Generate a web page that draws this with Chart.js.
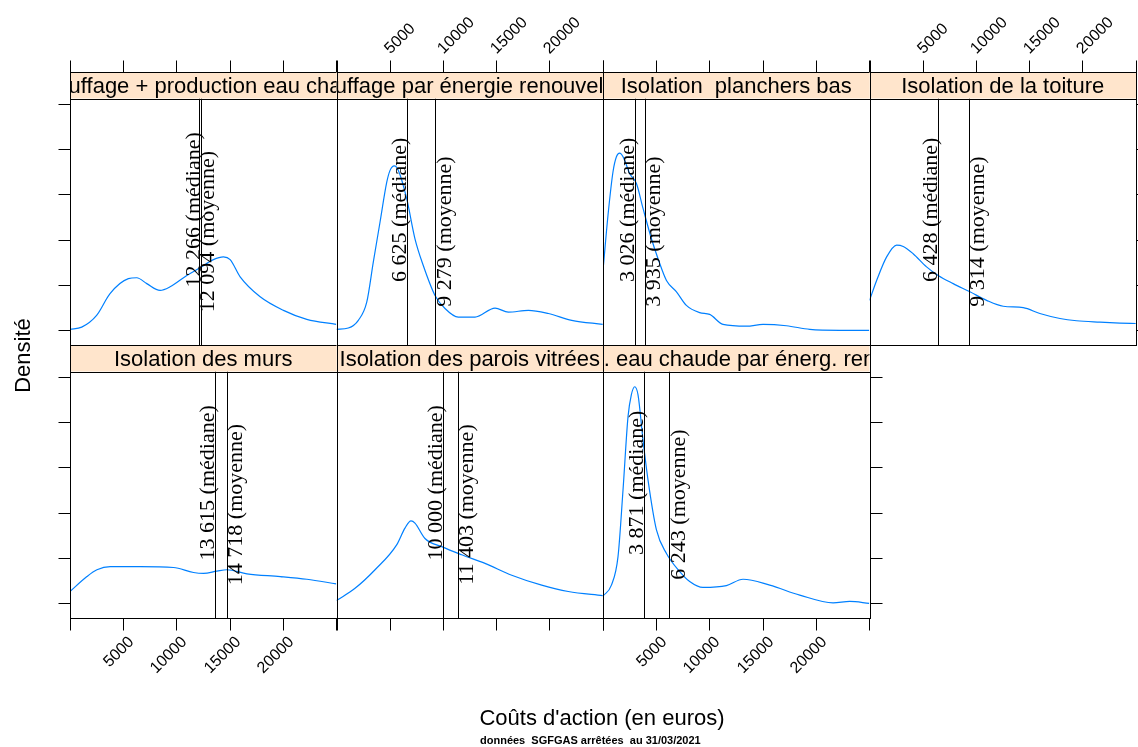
<!DOCTYPE html>
<html lang="fr">
<head>
<meta charset="UTF-8">
<title>Coûts d'action - densités</title>
<script src="https://cdn.jsdelivr.net/npm/chart.js"></script>
<style>
  html, body { margin: 0; padding: 0; background: #fff; }
  #page { position: relative; width: 1138px; height: 747px; overflow: hidden; }
  #page canvas { position: absolute; left: 0; top: 0; }
</style>
</head>
<body>
<div id="page"></div>

<script>
// ---- données (densité en unités de graduation) ----
const panneaux = ['Chauffage + production eau chaude', 'Chauffage par énergie renouvelable',
  'Isolation  planchers bas', 'Isolation de la toiture', 'Isolation des murs',
  'Isolation des parois vitrées', 'Prod. eau chaude par énerg. renouv.'];
const medianes = [12266, 6625, 3026, 6428, 13615, 10000, 3871];
const moyennes = [12094, 9279, 3935, 9314, 14718, 11403, 6243];

const xTicks = [0, 5000, 10000, 15000, 20000, 25000];
const xTickLabels = ['', '5000', '10000', '15000', '20000', ''];
const yTicks = [0, 1, 2, 3, 4, 5];

const coutChauffage = [0, 1100, 2500, 3760, 5480, 6270, 7210, 8460, 9400, 10970, 12220, 13470, 14410, 15040, 15980, 17860, 20050, 22240, 25000];
const densChauffage = [0.02, 0.07, 0.33, 0.81, 1.14, 1.16, 1.03, 0.88, 0.96, 1.21, 1.38, 1.56, 1.62, 1.56, 1.18, 0.74, 0.44, 0.24, 0.13];

const coutChaufRenouv = [0, 1110, 2050, 2840, 3460, 4090, 4720, 5030, 5430, 5810, 6590, 7370, 8150, 9250, 10190, 11440, 13010, 14890, 16140, 18020, 19900, 22090, 25000];
const densChaufRenouv = [0.02, 0.05, 0.22, 0.62, 1.51, 2.39, 3.27, 3.53, 3.63, 3.53, 2.91, 2.02, 1.43, 0.77, 0.48, 0.29, 0.29, 0.49, 0.40, 0.44, 0.37, 0.22, 0.13];

const coutPlanchers = [0, 470, 940, 1260, 1570, 1880, 2510, 3140, 3760, 4550, 5170, 5960, 6900, 7830, 9080, 10020, 11270, 13470, 15030, 17230, 19420, 22230, 25000];
const densPlanchers = [1.32, 2.54, 3.50, 3.83, 3.91, 3.83, 3.46, 3.24, 2.69, 2.02, 1.58, 1.10, 0.85, 0.55, 0.39, 0.35, 0.13, 0.09, 0.13, 0.10, 0.02, 0.0, 0.0];

const coutToiture = [0, 670, 1610, 2550, 3170, 4100, 5360, 6450, 7860, 9430, 11000, 12560, 14440, 16000, 17890, 19450, 21640, 23520, 25000];
const densToiture = [0.66, 1.10, 1.62, 1.88, 1.85, 1.69, 1.40, 1.21, 1.03, 0.85, 0.66, 0.53, 0.50, 0.37, 0.26, 0.21, 0.18, 0.16, 0.15];

const coutMurs = [0, 1590, 2530, 3780, 6590, 9720, 11600, 12540, 13800, 14740, 16620, 19750, 22250, 25000];
const densMurs = [0.26, 0.59, 0.74, 0.81, 0.81, 0.79, 0.68, 0.66, 0.71, 0.74, 0.65, 0.59, 0.53, 0.43];

const coutParois = [0, 1740, 3620, 5650, 6430, 7000, 7370, 8310, 9880, 11760, 13950, 16460, 19270, 21770, 25000];
const densParois = [0.06, 0.33, 0.74, 1.29, 1.66, 1.82, 1.77, 1.43, 1.25, 1.07, 0.88, 0.62, 0.40, 0.26, 0.17];

const coutEauChaude = [0, 790, 1410, 1880, 2350, 2660, 2980, 3290, 3760, 4230, 5020, 5960, 7210, 8140, 9390, 11590, 13150, 15660, 18480, 21610, 23180, 25000];
const densEauChaude = [0.16, 0.40, 1.03, 2.50, 4.12, 4.60, 4.78, 4.60, 3.60, 2.72, 1.62, 1.10, 0.70, 0.48, 0.35, 0.39, 0.53, 0.40, 0.18, 0.01, 0.04, 0.0];

const couts = [coutChauffage, coutChaufRenouv, coutPlanchers, coutToiture, coutMurs, coutParois, coutEauChaude];
const densites = [densChauffage, densChaufRenouv, densPlanchers, densToiture, densMurs, densParois, densEauChaude];

// ---- mise en page ----
const W = 1138, H = 747;
const colLeft = [70, 336.5, 603, 869.5];
const colW = 266.5;
const plotTop = [98.5, 371.5];
const plotH = 246.5;
const stripH = 26.5;
const tickLen = 12;
const xMax = 25030;
const yMin = -0.325, yMax = 5.117;
const yTexteMed = 2.66, yTexteMoy = 2.18;

const sans = 'Arial, "Liberation Sans", sans-serif';
const serif = '"Liberation Serif", "Times New Roman", serif';

const fmt = v => String(v).replace(/\B(?=(\d{3})+(?!\d))/g, ' ');
const px = v => Math.round(v) + 0.5;

const panneauPlugin = {
  id: 'panneau',
  afterDraw(chart, args, o) {
    const ctx = chart.ctx, a = chart.chartArea;
    const sx = chart.scales.x, sy = chart.scales.y;
    const st = a.top - stripH;
    ctx.save();
    ctx.strokeStyle = '#000';
    ctx.lineWidth = 1;

    // lignes médiane / moyenne
    [o.mediane, o.moyenne].forEach(v => {
      const x = px(sx.getPixelForValue(v));
      ctx.beginPath(); ctx.moveTo(x, a.top); ctx.lineTo(x, a.bottom); ctx.stroke();
    });

    ctx.fillStyle = '#000';
    ctx.font = '22px ' + serif;
    ctx.textAlign = 'center';
    ctx.textBaseline = 'alphabetic';
    ctx.save();
    ctx.translate(sx.getPixelForValue(o.mediane) - 1, sy.getPixelForValue(yTexteMed));
    ctx.rotate(-Math.PI / 2);
    ctx.fillText(fmt(o.mediane) + ' (médiane)', 0, 0);
    ctx.restore();
    ctx.save();
    ctx.translate(sx.getPixelForValue(o.moyenne) + 15.5, sy.getPixelForValue(yTexteMoy));
    ctx.rotate(-Math.PI / 2);
    ctx.fillText(fmt(o.moyenne) + ' (moyenne)', 0, 0);
    ctx.restore();

    // bandeau
    ctx.fillStyle = '#ffe5cc';
    ctx.fillRect(a.left, st, a.right - a.left, stripH);
    ctx.save();
    ctx.beginPath(); ctx.rect(a.left, st, a.right - a.left, stripH); ctx.clip();
    ctx.fillStyle = '#000';
    ctx.font = '22px ' + sans;
    ctx.textAlign = 'center';
    ctx.textBaseline = 'alphabetic';
    ctx.fillText(o.titre, (a.left + a.right) / 2, st + 21);
    ctx.restore();

    // cadres
    ctx.strokeRect(px(a.left), px(st), px(a.right) - px(a.left), px(a.bottom) - px(st));
    ctx.beginPath(); ctx.moveTo(px(a.left), px(a.top)); ctx.lineTo(px(a.right), px(a.top)); ctx.stroke();

    // graduations x
    ctx.font = '16px ' + sans;
    ctx.fillStyle = '#000';
    xTicks.forEach((v, i) => {
      const x = px(sx.getPixelForValue(v));
      if (o.haut) {
        ctx.beginPath(); ctx.moveTo(x, px(st)); ctx.lineTo(x, px(st) - tickLen); ctx.stroke();
        if (o.labelsHaut && xTickLabels[i]) {
          ctx.save();
          ctx.translate(x - 3, px(st) - tickLen - 9);
          ctx.rotate(-Math.PI / 4);
          ctx.textAlign = 'left'; ctx.textBaseline = 'middle';
          ctx.fillText(xTickLabels[i], 0, 0);
          ctx.restore();
        }
      } else {
        ctx.beginPath(); ctx.moveTo(x, px(a.bottom)); ctx.lineTo(x, px(a.bottom) + tickLen); ctx.stroke();
        if (o.labelsBas && xTickLabels[i]) {
          ctx.save();
          ctx.translate(x + 8, px(a.bottom) + tickLen + 9);
          ctx.rotate(-Math.PI / 4);
          ctx.textAlign = 'right'; ctx.textBaseline = 'middle';
          ctx.fillText(xTickLabels[i], 0, 0);
          ctx.restore();
        }
      }
    });

    // graduations y (sans libellés)
    yTicks.forEach(v => {
      const y = px(sy.getPixelForValue(v));
      if (o.gauche) {
        ctx.beginPath(); ctx.moveTo(px(a.left), y); ctx.lineTo(px(a.left) - tickLen, y); ctx.stroke();
      }
      if (o.droite) {
        ctx.beginPath(); ctx.moveTo(px(a.right), y); ctx.lineTo(px(a.right) + tickLen, y); ctx.stroke();
      }
    });
    ctx.restore();
  }
};

const titresPlugin = {
  id: 'titres',
  afterDraw(chart) {
    const ctx = chart.ctx;
    ctx.save();
    ctx.fillStyle = '#000';
    ctx.font = '22px ' + sans;
    ctx.textAlign = 'center';
    ctx.textBaseline = 'alphabetic';
    ctx.fillText("Coûts d'action (en euros)", 602, 725);
    ctx.save();
    ctx.translate(30, 355.5);
    ctx.rotate(-Math.PI / 2);
    ctx.fillText('Densité', 0, 0);
    ctx.restore();
    ctx.font = 'bold 11px ' + sans;
    ctx.textAlign = 'left';
    ctx.fillText('données  SGFGAS arrêtées  au 31/03/2021', 480, 744);
    ctx.restore();
  }
};

const page = document.getElementById('page');
panneaux.forEach((titre, i) => {
  const row = i < 4 ? 0 : 1;
  const col = row === 0 ? i : i - 4;
  const left = colLeft[col], right = left + colW;
  const top = plotTop[row], bottom = top + plotH;

  const cv = document.createElement('canvas');
  cv.width = W; cv.height = H;
  page.appendChild(cv);

  new Chart(cv, {
    type: 'line',
    data: {
      datasets: [{
        data: couts[i].map((x, k) => ({ x: x, y: densites[i][k] })),
        borderColor: '#0080ff',
        borderWidth: 1.2,
        pointRadius: 0,
        fill: false,
        cubicInterpolationMode: 'monotone'
      }]
    },
    options: {
      responsive: false,
      animation: false,
      devicePixelRatio: 1,
      events: [],
      layout: { padding: { left: left, top: top, right: W - right, bottom: H - bottom } },
      scales: {
        x: { type: 'linear', display: false, min: 0, max: xMax },
        y: { type: 'linear', display: false, min: yMin, max: yMax }
      },
      plugins: {
        legend: { display: false },
        tooltip: { enabled: false },
        panneau: {
          titre: titre,
          mediane: medianes[i],
          moyenne: moyennes[i],
          haut: row === 0,
          labelsHaut: row === 0 && (col === 1 || col === 3),
          labelsBas: row === 1 && (col === 0 || col === 2),
          gauche: col === 0,
          droite: i === 3 || i === 6
        }
      }
    },
    plugins: i === 0 ? [panneauPlugin, titresPlugin] : [panneauPlugin]
  });
});
</script>
</body>
</html>
